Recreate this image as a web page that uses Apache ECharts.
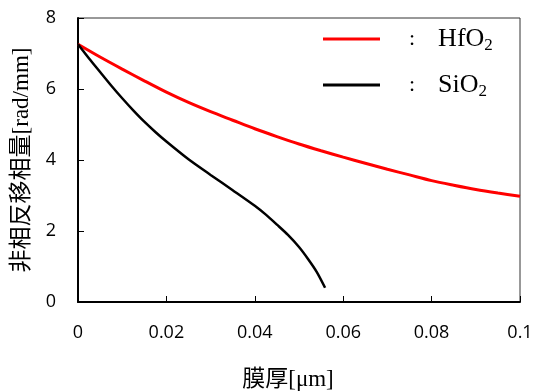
<!DOCTYPE html>
<html>
<head>
<meta charset="utf-8">
<script src="https://cdn.jsdelivr.net/npm/echarts@6/dist/echarts.min.js"></script>
<style>
  html, body { margin: 0; padding: 0; background: #fff; }
  #chart { width: 536px; height: 392px; }
</style>
</head>
<body>
<div id="chart"></div>
<script>
// 膜厚 [μm]
const hfThick = [0, 0.005, 0.01, 0.015, 0.02, 0.025, 0.03, 0.035, 0.04, 0.045, 0.05,
  0.055, 0.06, 0.065, 0.07, 0.075, 0.08, 0.085, 0.09, 0.095, 0.1];
const hfPhase = [7.26, 6.90, 6.56, 6.23, 5.91, 5.62, 5.36, 5.12, 4.88, 4.66, 4.45,
  4.26, 4.08, 3.91, 3.74, 3.58, 3.42, 3.29, 3.17, 3.07, 2.98];

const siThick = [0, 0.0025, 0.005, 0.0075, 0.01, 0.0125, 0.015, 0.0175, 0.02, 0.025, 0.03,
  0.035, 0.04, 0.0425, 0.045, 0.0475, 0.05, 0.052, 0.054, 0.0559];
const siPhase = [7.26, 6.86, 6.48, 6.10, 5.74, 5.40, 5.08, 4.79, 4.52, 4.02, 3.58,
  3.15, 2.71, 2.46, 2.18, 1.89, 1.55, 1.22, 0.85, 0.40];

const seriesNames = ['HfO2', 'SiO2'];
const seriesColors = ['#ff0000', '#000000'];

const pairs = (xs, ys) => xs.map((x, i) => [x, ys[i]]);

const chart = echarts.init(document.getElementById('chart'));

const serif = "'Liberation Serif', 'Noto Sans CJK JP', serif";
const sans = "'Open Sans', 'Liberation Sans', sans-serif";

chart.setOption({
  animation: false,
  grid: {
    left: 78,
    right: 16,
    top: 18,
    bottom: 90,
    outerBoundsMode: 'none',
    containLabel: false,
    show: true,
    borderColor: '#333',
    borderWidth: 1,
  },
  legend: {
    orient: 'vertical',
    left: 318,
    top: 21,
    itemWidth: 57,
    itemHeight: 3,
    itemGap: 18,
    icon: 'rect',
    selectedMode: false,
    data: seriesNames,
    formatter: (name) => {
      // 最後の一文字を下付きにする
      return '{c|:}{t|' + name.slice(0, -1) + '}{s|' + name.slice(-1) + '}';
    },
    textStyle: {
      color: '#000',
      fontFamily: serif,
      lineHeight: 24,
      rich: {
        c: { fontSize: 22, fontFamily: serif, color: '#000', padding: [0, 23, 0, 24] },
        t: { fontSize: 26, fontFamily: serif, color: '#000' },
        s: { fontSize: 17, fontFamily: serif, color: '#000', verticalAlign: 'top', padding: [10, 0, 0, 0] },
      },
    },
  },
  xAxis: {
    type: 'value',
    min: 0,
    max: 0.1,
    interval: 0.02,
    name: '膜厚[μm]',
    nameLocation: 'middle',
    nameGap: 66,
    nameTextStyle: {
      fontFamily: serif,
      fontSize: 23,
      color: '#000',
      padding: [0, 22, 0, 0],
    },
    axisLine: { lineStyle: { color: '#000', width: 2 } },
    axisTick: { inside: true, length: 6, lineStyle: { color: '#000', width: 1 } },
    axisLabel: {
      margin: 22,
      fontFamily: sans,
      fontSize: 18,
      color: '#000',
      formatter: (v) => String(+v.toFixed(2)),
    },
    splitLine: { show: false },
  },
  yAxis: {
    type: 'value',
    min: 0,
    max: 8,
    interval: 2,
    name: '非相反移相量[rad/mm]',
    nameLocation: 'middle',
    nameGap: 45,
    nameTextStyle: {
      fontFamily: serif,
      fontSize: 23,
      color: '#000',
    },
    axisLine: { lineStyle: { color: '#000', width: 2 } },
    axisTick: { inside: true, length: 6, lineStyle: { color: '#000', width: 1 } },
    axisLabel: {
      margin: 22,
      fontFamily: sans,
      fontSize: 18,
      color: '#000',
    },
    splitLine: { show: false },
  },
  series: [
    {
      name: seriesNames[0],
      type: 'line',
      data: pairs(hfThick, hfPhase),
      smooth: 0.3,
      symbol: 'none',
      color: seriesColors[0],
      lineStyle: { color: seriesColors[0], width: 3 },
    },
    {
      name: seriesNames[1],
      type: 'line',
      data: pairs(siThick, siPhase),
      smooth: 0.3,
      symbol: 'none',
      color: seriesColors[1],
      lineStyle: { color: seriesColors[1], width: 2.5 },
    },
  ],
});
</script>
</body>
</html>
